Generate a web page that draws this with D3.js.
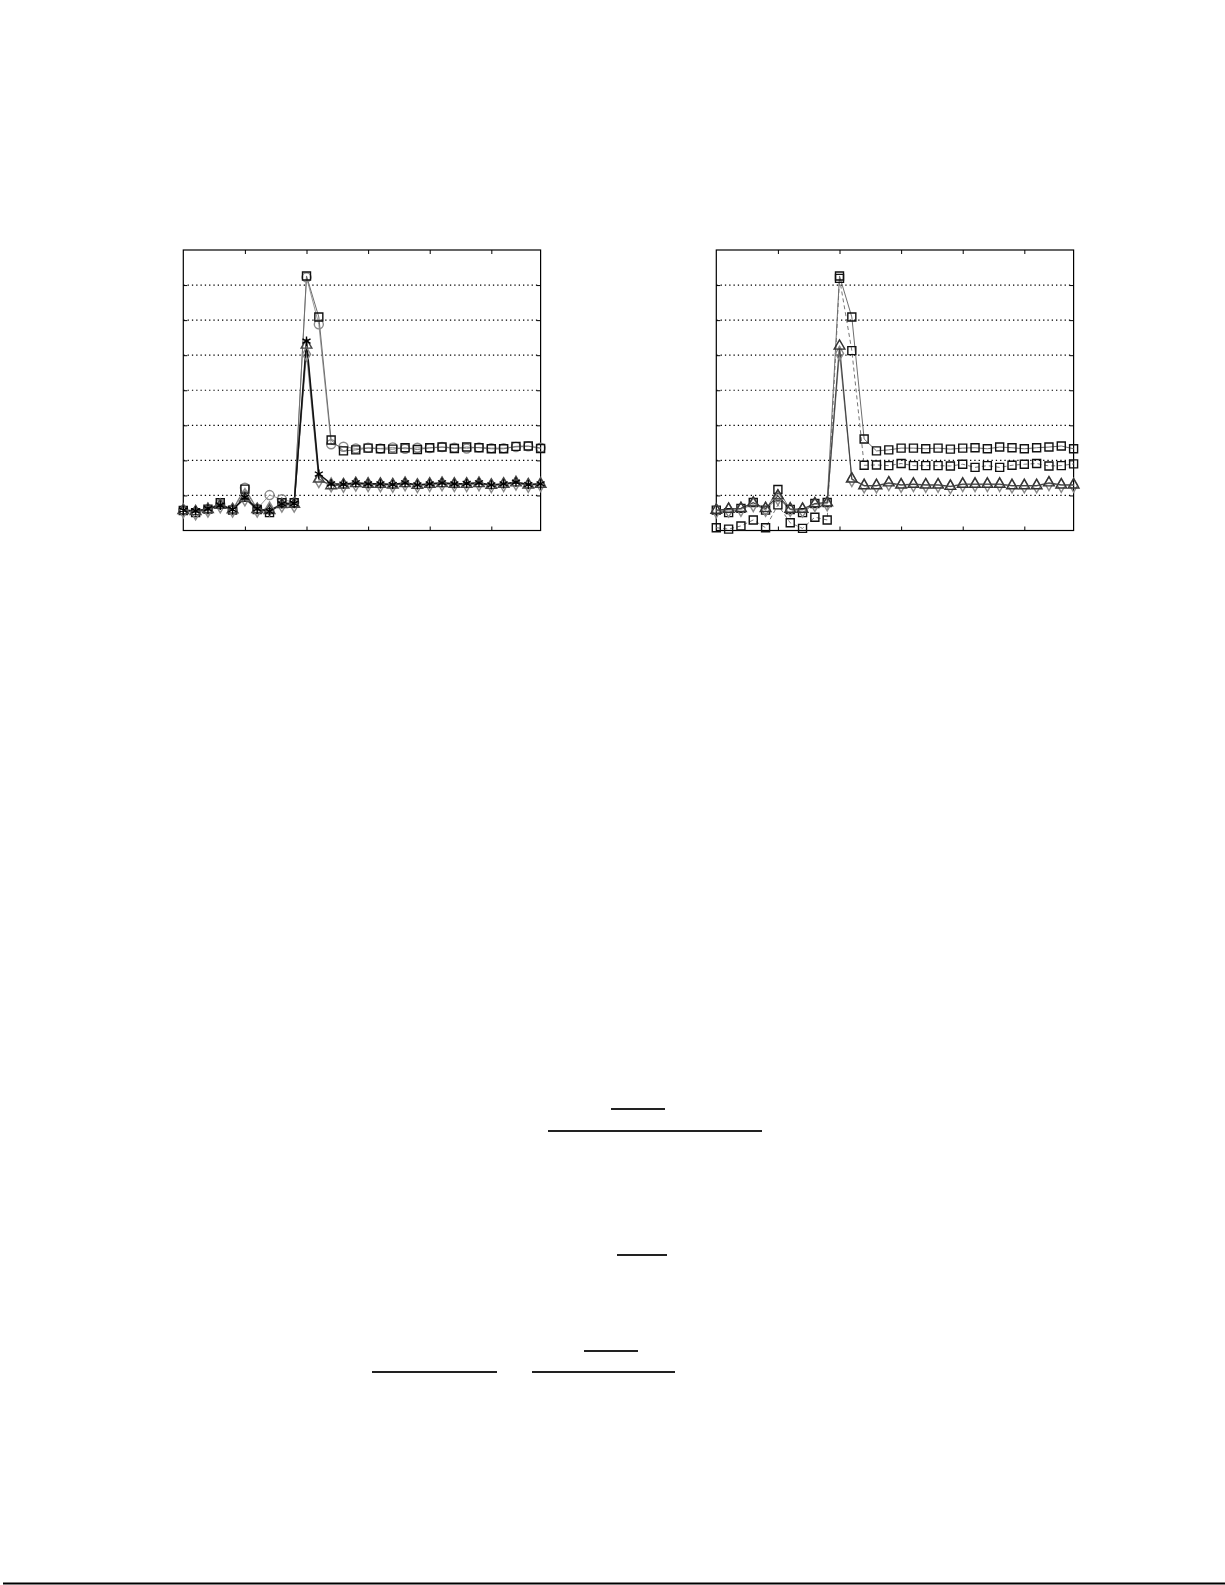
<!DOCTYPE html>
<html>
<head>
<meta charset="utf-8">
<script src="https://cdn.jsdelivr.net/npm/d3@7"></script>
<style>
  body { margin: 0; background: #fff; }
</style>
</head>
<body>
<svg></svg>
<script>
// x positions 0..29, y range 0..8
const steps = d3.range(30);
const xTicks = [5, 10, 15, 20, 25];
const yGrid = [1, 2, 3, 4, 5, 6, 7];

// left panel series
const leftSquare = [0.57,0.51,0.61,0.79,0.58,1.18,0.60,0.51,0.79,0.79,7.26,6.09,2.58,2.27,2.30,2.35,2.33,2.32,2.36,2.31,2.36,2.38,2.34,2.38,2.36,2.33,2.33,2.40,2.41,2.34];
const leftCircle = [0.58,0.52,0.60,0.75,0.60,1.22,0.62,1.01,0.89,0.80,7.22,5.88,2.46,2.39,2.34,2.36,2.34,2.37,2.33,2.36,2.35,2.38,2.36,2.34,2.37,2.35,2.35,2.38,2.40,2.36];
const leftStar = [0.58,0.56,0.62,0.72,0.60,0.95,0.62,0.55,0.76,0.77,5.40,1.61,1.33,1.32,1.36,1.33,1.33,1.31,1.36,1.30,1.33,1.36,1.33,1.34,1.36,1.30,1.33,1.38,1.31,1.33];
const leftTri = [0.57,0.54,0.60,0.72,0.59,0.92,0.60,0.57,0.74,0.75,5.29,1.47,1.28,1.30,1.34,1.32,1.32,1.30,1.34,1.29,1.32,1.34,1.32,1.32,1.34,1.29,1.32,1.36,1.30,1.32];
const leftDiamond = [0.56,0.50,0.58,0.70,0.58,0.90,0.58,0.62,0.72,0.72,5.03,1.42,1.30,1.29,1.32,1.31,1.30,1.29,1.33,1.28,1.31,1.33,1.31,1.31,1.33,1.28,1.31,1.35,1.29,1.31];

// right panel series
const rightSquare = [0.58,0.51,0.63,0.80,0.58,1.17,0.60,0.51,0.77,0.80,7.26,6.09,2.61,2.27,2.30,2.35,2.35,2.33,2.35,2.32,2.35,2.36,2.33,2.38,2.36,2.33,2.36,2.38,2.41,2.33];
const rightSquareDash = [0.08,0.04,0.13,0.30,0.08,0.73,0.22,0.06,0.38,0.30,7.19,5.13,1.86,1.87,1.85,1.91,1.85,1.85,1.85,1.84,1.89,1.80,1.85,1.80,1.86,1.89,1.91,1.84,1.85,1.90];
const rightTri = [0.58,0.61,0.63,0.79,0.63,0.99,0.61,0.61,0.77,0.79,5.26,1.47,1.28,1.28,1.36,1.30,1.32,1.30,1.30,1.26,1.32,1.32,1.32,1.32,1.28,1.28,1.28,1.36,1.30,1.30];
const rightDiamond = [0.56,0.58,0.60,0.74,0.60,0.92,0.60,0.58,0.74,0.76,5.05,1.45,1.27,1.27,1.34,1.29,1.31,1.29,1.29,1.25,1.31,1.31,1.31,1.31,1.27,1.27,1.27,1.34,1.29,1.29];

const width = 1225;
const height = 1585;
const svg = d3.select("svg").attr("width", width).attr("height", height);

function panel(left, series) {
  const top = 250;
  const bottom = 530.5;
  const right = left + 357.3;

  const x = d3.scaleLinear([0, 29], [left, right]);
  const y = d3.scaleLinear([0, 8], [bottom, top]);
  const g = svg.append("g");

  // dotted grid
  g.selectAll(".grid")
    .data(yGrid)
    .enter()
    .append("line")
    .attr("x1", left)
    .attr("x2", right)
    .attr("y1", (d) => y(d))
    .attr("y2", (d) => y(d))
    .attr("stroke", "#000")
    .attr("stroke-width", 1.2)
    .attr("stroke-dasharray", "1.3,3");

  // ticks inside the box, no labels
  const tk = 4;
  g.append("g")
    .attr("transform", `translate(0,${bottom})`)
    .call(d3.axisTop(x).tickValues(xTicks).tickSize(tk).tickFormat(""));
  g.append("g")
    .attr("transform", `translate(0,${top})`)
    .call(d3.axisBottom(x).tickValues(xTicks).tickSize(tk).tickFormat(""));
  g.append("g")
    .attr("transform", `translate(${left},0)`)
    .call(d3.axisRight(y).tickValues(yGrid).tickSize(tk).tickFormat(""));
  g.append("g")
    .attr("transform", `translate(${right},0)`)
    .call(d3.axisLeft(y).tickValues(yGrid).tickSize(tk).tickFormat(""));
  g.selectAll(".domain").remove();

  g.append("rect")
    .attr("x", left)
    .attr("y", top)
    .attr("width", right - left)
    .attr("height", bottom - top)
    .attr("fill", "none")
    .attr("stroke", "#000")
    .attr("stroke-width", 1.2);

  const line = d3.line().x((d, i) => x(i)).y((d) => y(d));

  series.forEach((s) => {
    g.append("path")
      .datum(s.values)
      .attr("d", line)
      .attr("fill", "none")
      .attr("stroke", s.line)
      .attr("stroke-width", s.lw)
      .attr("stroke-dasharray", s.dash || null);
  });

  series.forEach((s) => {
    g.selectAll(null)
      .data(s.values)
      .enter()
      .append("path")
      .attr("transform", (d, i) => `translate(${x(i)},${y(d)})`)
      .attr("d", d3.symbol(s.symbol, s.size))
      .attr("fill", "none")
      .attr("stroke", s.mark)
      .attr("stroke-width", 1.4);
  });
}

panel(183.3, [
  { values: leftCircle, symbol: d3.symbolCircle, size: 64, line: "#9a9a9a", lw: 1, mark: "#8a8a8a" },
  { values: leftSquare, symbol: d3.symbolSquare, size: 64, line: "#6e6e6e", lw: 1, mark: "#111" },
  { values: leftDiamond, symbol: d3.symbolDiamond, size: 56, line: "#999", lw: 1, mark: "#888" },
  { values: leftTri, symbol: d3.symbolTriangle, size: 50, line: "#555", lw: 1.2, mark: "#444" },
  { values: leftStar, symbol: d3.symbolAsterisk, size: 60, line: "#111", lw: 1.5, mark: "#000" }
]);

panel(716.3, [
  { values: rightSquareDash, symbol: d3.symbolSquare, size: 64, line: "#777", lw: 1, mark: "#111", dash: "4,3" },
  { values: rightSquare, symbol: d3.symbolSquare, size: 64, line: "#6e6e6e", lw: 1, mark: "#111" },
  { values: rightDiamond, symbol: d3.symbolDiamond, size: 56, line: "#999", lw: 1, mark: "#888" },
  { values: rightTri, symbol: d3.symbolTriangle, size: 50, line: "#444", lw: 1.2, mark: "#333" }
]);

// fraction bars of the equations below the figure (text not rendered)
const rules = [
  [611, 665, 1109],
  [548, 762, 1131],
  [617, 667, 1255],
  [584, 638, 1351],
  [372, 497, 1372],
  [532, 675, 1372]
];
svg.selectAll(".rule")
  .data(rules)
  .enter()
  .append("line")
  .attr("x1", (d) => d[0])
  .attr("x2", (d) => d[1])
  .attr("y1", (d) => d[2])
  .attr("y2", (d) => d[2])
  .attr("stroke", "#222")
  .attr("stroke-width", 2);

svg.append("line")
  .attr("x1", 3)
  .attr("x2", width)
  .attr("y1", 1583.5)
  .attr("y2", 1583.5)
  .attr("stroke", "#000")
  .attr("stroke-width", 2);
</script>
</body>
</html>
